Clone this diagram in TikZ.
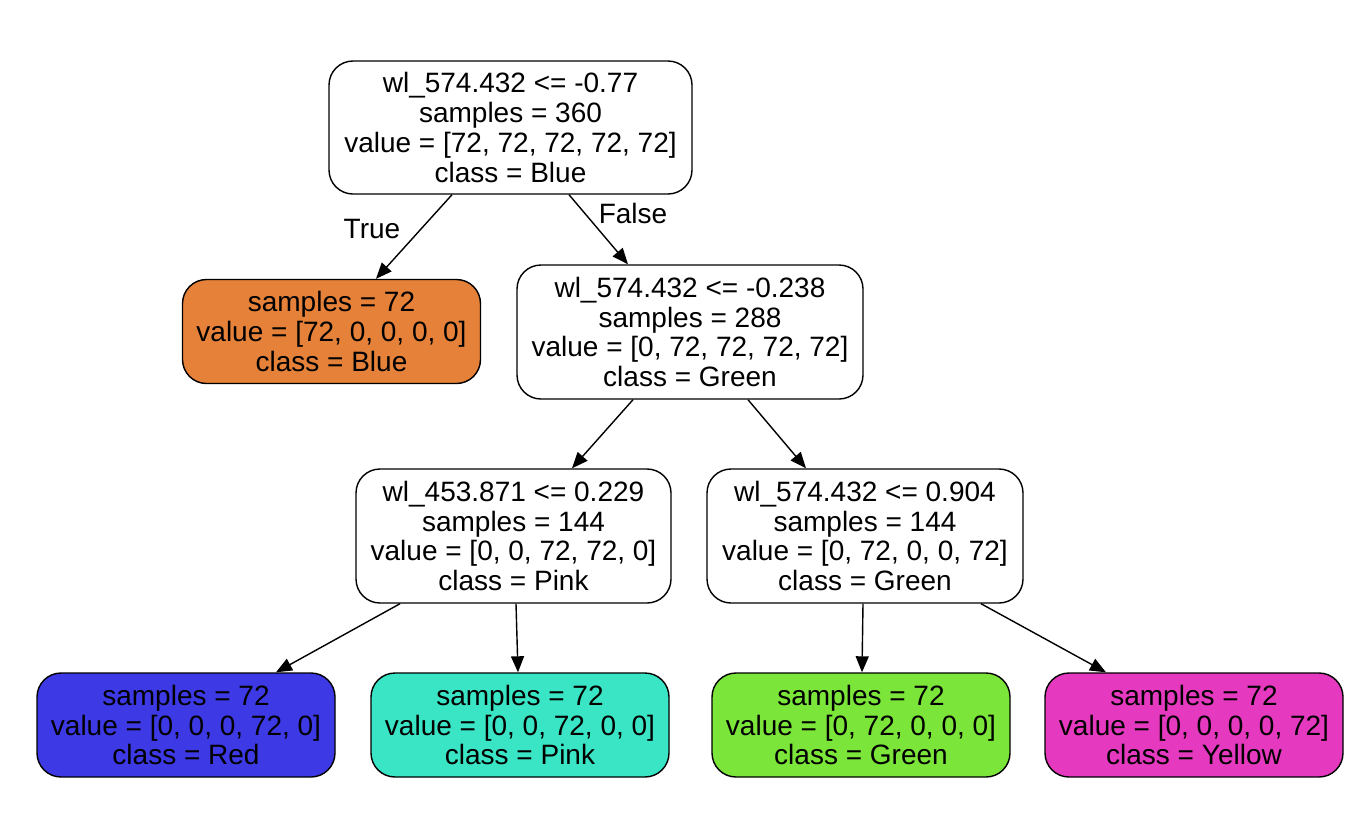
\documentclass[tikz,border=0pt]{standalone}
\usepackage{fontspec}
\setmainfont{Liberation Sans}
\usetikzlibrary{arrows.meta}
\definecolor{cblue}{HTML}{E58139}
\definecolor{cred}{HTML}{3C39E5}
\definecolor{cpink}{HTML}{39E5C5}
\definecolor{cgreen}{HTML}{7BE539}
\definecolor{cyellow}{HTML}{E539C0}
\tikzset{
  tnode/.style={draw=black, line width=0.7pt, rounded corners=12pt, align=center,
    font=\fontsize{14pt}{14.9pt}\selectfont, inner sep=0pt, fill=white},
  inner/.style={tnode, minimum width=172pt, minimum height=66.5pt},
  leaf/.style={tnode, minimum width=149pt, minimum height=52pt},
  edge/.style={line width=0.7pt, -{Triangle[length=8pt,width=6.5pt]}},
  elabel/.style={font=\fontsize{14pt}{15pt}\selectfont}
}
\begin{document}
\begin{tikzpicture}[x=0.5pt,y=-0.5pt]
\useasboundingbox (0,0) rectangle (1372,831);
\node[inner, minimum width=181.5pt] (root) at (510.5,127.5) {wl\_574.432 <= -0.77\\samples = 360\\value = [72, 72, 72, 72, 72]\\class = Blue};
\node[leaf, fill=cblue] (lblue) at (331.5,331.5) {samples = 72\\value = [72, 0, 0, 0, 0]\\class = Blue};
\node[inner, minimum width=173pt, minimum height=67pt] (n2) at (690,332) {wl\_574.432 <= -0.238\\samples = 288\\value = [0, 72, 72, 72, 72]\\class = Green};
\node[inner, minimum width=157.5pt, minimum height=67pt] (n3) at (513.5,536) {wl\_453.871 <= 0.229\\samples = 144\\value = [0, 0, 72, 72, 0]\\class = Pink};
\node[inner, minimum width=158pt, minimum height=67pt] (n4) at (865,536) {wl\_574.432 <= 0.904\\samples = 144\\value = [0, 72, 0, 0, 72]\\class = Green};
\node[leaf, fill=cred] (lred) at (186,725) {samples = 72\\value = [0, 0, 0, 72, 0]\\class = Red};
\node[leaf, fill=cpink] (lpink) at (520,725) {samples = 72\\value = [0, 0, 72, 0, 0]\\class = Pink};
\node[leaf, fill=cgreen] (lgreen) at (861,725) {samples = 72\\value = [0, 72, 0, 0, 0]\\class = Green};
\node[leaf, fill=cyellow] (lyellow) at (1194,725) {samples = 72\\value = [0, 0, 0, 0, 72]\\class = Yellow};
\draw[edge] ([xshift=-29.25pt]root.south) -- ([xshift=22.25pt]lblue.north);
\draw[edge] ([xshift=29.25pt]root.south) -- ([xshift=-31pt]n2.north);
\draw[edge] ([xshift=-28.5pt]n2.south) -- ([xshift=29.25pt]n3.north);
\draw[edge] ([xshift=29pt]n2.south) -- ([xshift=-29.5pt]n4.north);
\draw[edge] ([xshift=-56.75pt]n3.south) -- ([xshift=45pt]lred.north);
\draw[edge] ([xshift=1.25pt]n3.south) -- ([xshift=-1pt]lpink.north);
\draw[edge] ([xshift=-1pt]n4.south) -- ([xshift=0.5pt]lgreen.north);
\draw[edge] ([xshift=58pt]n4.south) -- ([xshift=-44pt]lyellow.north);
\node[elabel] (ltrue) at (372,229) {True};
\node[elabel] (lfalse) at (633,213) {False};
\end{tikzpicture}
\end{document}
